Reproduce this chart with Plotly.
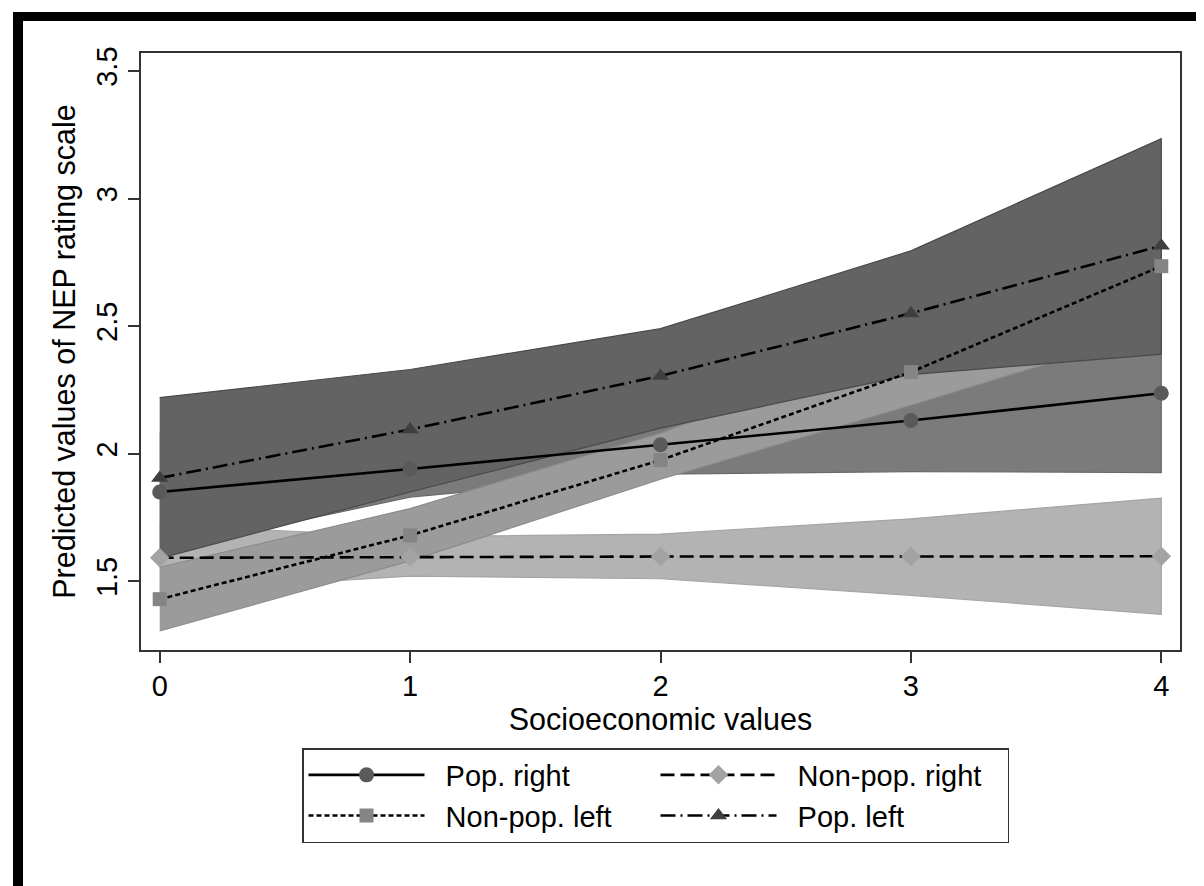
import plotly.graph_objects as go

# Socioeconomic values (x axis)
socio = [0, 1, 2, 3, 4]

# Predicted NEP values per group, with lower / upper confidence bounds
pop_right = [1.85, 1.94, 2.035, 2.13, 2.237]
pop_right_lo = [1.62, 1.83, 1.92, 1.93, 1.926]
pop_right_hi = [2.08, 2.05, 2.15, 2.33, 2.55]

nonpop_right = [1.592, 1.595, 1.597, 1.597, 1.598]
nonpop_right_lo = [1.46, 1.52, 1.51, 1.445, 1.37]
nonpop_right_hi = [1.72, 1.675, 1.685, 1.745, 1.826]

nonpop_left = [1.43, 1.68, 1.975, 2.32, 2.735]
nonpop_left_lo = [1.305, 1.58, 1.90, 2.19, 2.49]
nonpop_left_hi = [1.555, 1.785, 2.08, 2.45, 2.98]

pop_left = [1.905, 2.095, 2.305, 2.55, 2.815]
pop_left_lo = [1.59, 1.85, 2.10, 2.31, 2.39]
pop_left_hi = [2.22, 2.33, 2.49, 2.795, 3.235]

y_ticks = [1.5, 2, 2.5, 3, 3.5]
y_ticktext = ["1.5", "2", "2.5", "3", "3.5"]

FONT = "Liberation Sans, Arial, sans-serif"
PAD = "\u00a0\u00a0"  # small gap between legend sample and its label

# group name, values, lo, hi, band fill, band edge, marker symbol, marker colour, dash
groups = [
    ("Pop. right", pop_right, pop_right_lo, pop_right_hi, "#7b7b7b", "#6a6a6a", "circle", "#5a5a5a", "solid"),
    ("Non-pop. right", nonpop_right, nonpop_right_lo, nonpop_right_hi, "#b3b3b3", "#a5a5a5", "diamond", "#a3a3a3", "14px,6px"),
    ("Non-pop. left", nonpop_left, nonpop_left_lo, nonpop_left_hi, "#9b9b9b", "#8c8c8c", "square", "#858585", "5px,3px"),
    ("Pop. left", pop_left, pop_left_lo, pop_left_hi, "#636363", "#4a4a4a", "triangle-up", "#3f3f3f", "15px,5px,2px,5px"),
]
marker_sizes = {"circle": 15, "diamond": 15, "square": 14, "triangle-up": 15}

fig = go.Figure()

# confidence bands first, so every line sits on top of them
for name, vals, lo, hi, fill, edge, sym, mcol, dash in groups:
    fig.add_trace(go.Scatter(
        x=socio + socio[::-1],
        y=hi + lo[::-1],
        fill="toself",
        fillcolor=fill,
        line=dict(color=edge, width=1.2),
        mode="lines",
        hoverinfo="skip",
        showlegend=False,
    ))

for name, vals, lo, hi, fill, edge, sym, mcol, dash in groups:
    fig.add_trace(go.Scatter(
        x=socio, y=vals, name=PAD + name,
        mode="lines+markers",
        line=dict(color="black", width=2.6, dash=dash),
        marker=dict(symbol=sym, size=marker_sizes[sym], color=mcol, line=dict(width=0)),
    ))

# plot area in pixels: left 133, right 1172, top 45, bottom 642
L, R, T, B = 133, 1172, 45, 642
W, H = R - L, B - T


def px(x):
    return (x - L) / W


def py(y):
    return (B - y) / H


# outer black frame (top, left, bottom) and thin grey right edge
shapes = [
    dict(type="rect", xref="paper", yref="paper", x0=px(5), x1=px(1204), y0=py(4), y1=py(13),
         fillcolor="black", line=dict(width=0)),
    dict(type="rect", xref="paper", yref="paper", x0=px(5), x1=px(15), y0=py(4), y1=py(886),
         fillcolor="black", line=dict(width=0)),
    dict(type="rect", xref="paper", yref="paper", x0=px(5), x1=px(1204), y0=py(879), y1=py(886),
         fillcolor="black", line=dict(width=0)),
    dict(type="line", xref="paper", yref="paper", x0=px(1202), x1=px(1202), y0=py(13), y1=py(879),
         line=dict(color="#999999", width=1)),
]

fig.update_layout(
    width=1204, height=886,
    margin=dict(l=L, r=1204 - R, t=T, b=886 - B),
    paper_bgcolor="white", plot_bgcolor="white",
    font=dict(family=FONT, size=29, color="black"),
    shapes=shapes,
    xaxis=dict(
        range=[-0.0747, 4.0747], tickvals=socio, ticks="outside", ticklen=11, tickwidth=1.5,
        tickcolor="#333", showline=True, linecolor="#333", linewidth=1.5, mirror=True,
        showgrid=False, zeroline=False, tickfont=dict(size=29), ticklabelstandoff=-2,
        title=dict(text="Socioeconomic values", font=dict(size=30.5), standoff=0),
    ),
    yaxis=dict(
        range=[1.2307, 3.5705], tickvals=y_ticks, ticktext=y_ticktext, tickangle=-90,
        ticks="outside", ticklen=11, tickwidth=1.5, tickcolor="#333",
        showline=True, linecolor="#333", linewidth=1.5, mirror=True,
        showgrid=False, zeroline=False, tickfont=dict(size=29),
        title=dict(text="Predicted values of NEP rating scale", font=dict(size=30.5), standoff=6),
    ),
    legend=dict(
        orientation="h", x=px(294), y=py(740), xanchor="left", yanchor="top",
        bordercolor="#333", borderwidth=1.5, bgcolor="white",
        entrywidth=221, entrywidthmode="pixels", itemwidth=116,
        font=dict(size=29), traceorder="normal",
    ),
)

fig.write_html("out.html")
